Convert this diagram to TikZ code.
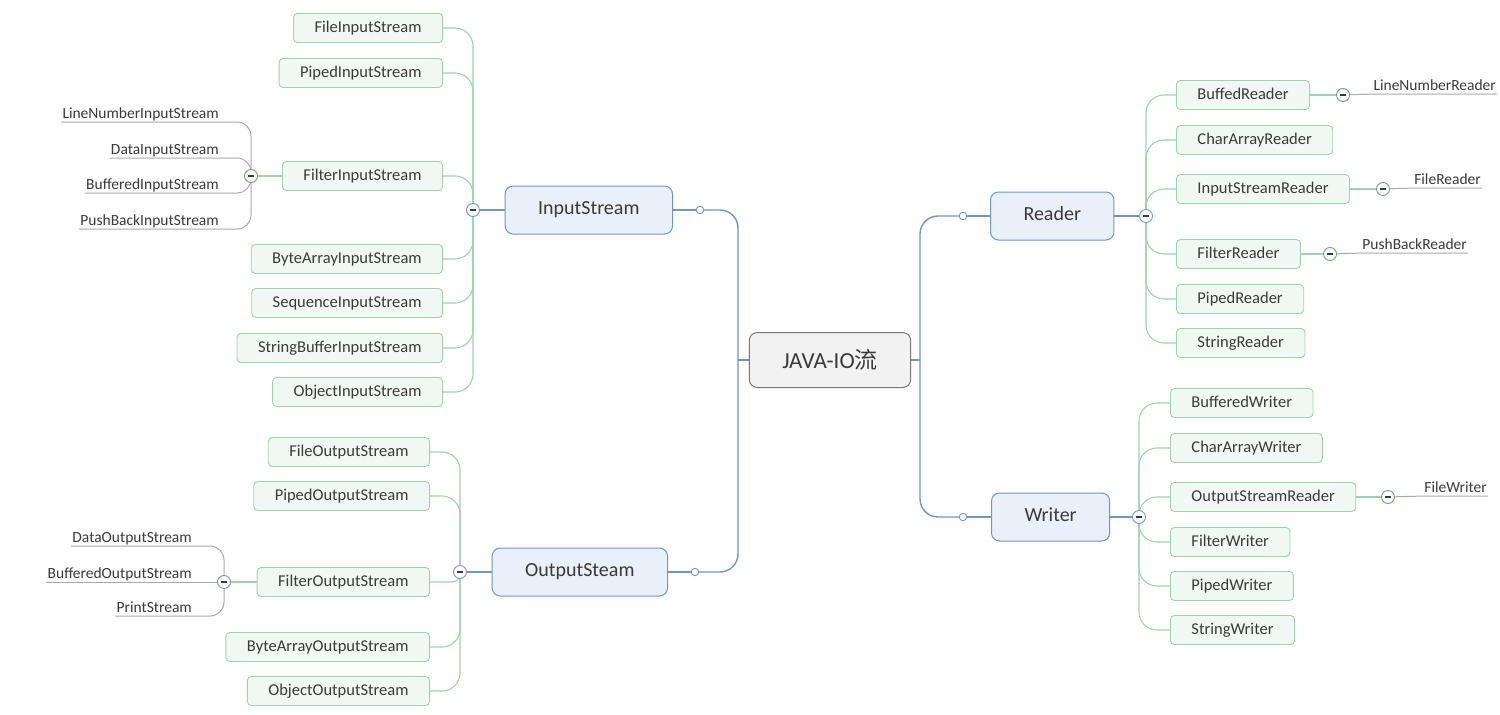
\documentclass[tikz,border=0pt]{standalone}
\usepackage{fontspec}
\setmainfont{Carlito}
\newfontfamily\cjk{Noto Sans CJK SC}
\usetikzlibrary{backgrounds}
\definecolor{mainblue}{HTML}{7395C6}
\definecolor{mainfill}{HTML}{EAF0F9}
\definecolor{kidgreen}{HTML}{9FD3AE}
\definecolor{kidfill}{HTML}{F1F8F3}
\definecolor{leafgray}{HTML}{A9A9A9}
\definecolor{rootgray}{HTML}{777777}
\definecolor{rootfill}{HTML}{F2F2F2}
\definecolor{inkgray}{HTML}{3A3A3A}

\begin{document}
\begin{tikzpicture}[x=1pt, y=-1pt,
rootnode/.style={rectangle, rounded corners=8pt, draw=rootgray, fill=rootfill, line width=1pt, text=inkgray, font=\fontsize{23}{26}\selectfont, inner xsep=33pt, minimum height=55pt},
mainnode/.style={rectangle, rounded corners=8pt, draw=mainblue, fill=mainfill, line width=1pt, text=inkgray, font=\fontsize{20}{24}\selectfont, inner xsep=33pt, text height=13pt, text depth=4pt, minimum height=48pt},
kidnode/.style={rectangle, rounded corners=4pt, draw=kidgreen, fill=kidfill, line width=0.9pt, text=inkgray, font=\fontsize{16.5}{19}\selectfont, inner xsep=21pt, text height=11pt, text depth=3pt, minimum height=29pt},
leafnode/.style={text=inkgray, font=\fontsize{15.5}{18}\selectfont, inner xsep=1pt, inner ysep=2pt, text depth=1.5pt},
dotnode/.style={circle, draw=mainblue, fill=white, line width=0.9pt, minimum size=7.5pt, inner sep=0pt},
hubnode/.style={circle, draw=mainblue, fill=white, line width=0.9pt, minimum size=13pt, inner sep=0pt,
  path picture={\draw [line width=1.3pt, inkgray] ([xshift=-3pt]path picture bounding box.center) -- ([xshift=3pt]path picture bounding box.center);}},
subhub/.style={hubnode, draw=kidgreen!75!black},
mainline/.style={draw=mainblue, line width=1.4pt},
kidline/.style={draw=kidgreen, line width=1.1pt, rounded corners=18pt},
leafline/.style={draw=leafgray, line width=1pt, rounded corners=14pt}
]
    \useasboundingbox (0,0) rectangle (1500,715);

    \node [rootnode] (root) at (830,360) {JAVA-IO{\cjk 流}};
    \coordinate (ljoin) at (738,360);
    \coordinate (rjoin) at (920,360);

    \node [mainnode,anchor=east] (inS) at (673,210) {InputStream};
    \node [mainnode,anchor=east] (outS) at (668,572) {OutputSteam};
    \node [mainnode,anchor=west] (rd) at (990,216) {Reader};
    \node [mainnode,anchor=west] (wr) at (991,517) {Writer};

    \node [dotnode] (inDot) at (700,210) {};
    \node [dotnode] (outDot) at (695,572) {};
    \node [dotnode] (rdDot) at (963,216) {};
    \node [dotnode] (wrDot) at (963,517) {};

    \node [hubnode] (inHub) at (473,210) {};
    \node [hubnode] (outHub) at (460,572) {};
    \node [hubnode] (rdHub) at (1146,216) {};
    \node [hubnode] (wrHub) at (1139,517) {};

    % InputStream
    \node [kidnode,anchor=east] (fis) at (443,28) {FileInputStream};
    \node [kidnode,anchor=east] (pis) at (443,73) {PipedInputStream};
    \node [kidnode,anchor=east] (filis) at (443,176) {FilterInputStream};
    \node [kidnode,anchor=east] (bais) at (443,259) {ByteArrayInputStream};
    \node [kidnode,anchor=east] (sis) at (443,303) {SequenceInputStream};
    \node [kidnode,anchor=east] (sbis) at (443,348) {StringBufferInputStream};
    \node [kidnode,anchor=east] (ois) at (443,392) {ObjectInputStream};

    \node [subhub] (filisHub) at (251,176) {};
    \node [leafnode,anchor=south east] (lnis) at (220,122) {LineNumberInputStream};
    \node [leafnode,anchor=south east] (dis) at (220,158) {DataInputStream};
    \node [leafnode,anchor=south east] (bis) at (220,193) {BufferedInputStream};
    \node [leafnode,anchor=south east] (pbis) at (220,229) {PushBackInputStream};

    % OutputSteam
    \node [kidnode,anchor=east] (fos) at (430,452) {FileOutputStream};
    \node [kidnode,anchor=east] (pos) at (430,496) {PipedOutputStream};
    \node [kidnode,anchor=east] (filos) at (430,582) {FilterOutputStream};
    \node [kidnode,anchor=east] (baos) at (430,647) {ByteArrayOutputStream};
    \node [kidnode,anchor=east] (oos) at (430,691) {ObjectOutputStream};

    \node [subhub] (filosHub) at (224,582) {};
    \node [leafnode,anchor=south east] (dos) at (193,546) {DataOutputStream};
    \node [leafnode,anchor=south east] (bos) at (193,582) {BufferedOutputStream};
    \node [leafnode,anchor=south east] (ps) at (193,616) {PrintStream};

    % Reader
    \node [kidnode,anchor=west] (bfr) at (1176,95) {BuffedReader};
    \node [kidnode,anchor=west] (car) at (1176,140) {CharArrayReader};
    \node [kidnode,anchor=west] (isr) at (1176,189) {InputStreamReader};
    \node [kidnode,anchor=west] (flr) at (1176,254) {FilterReader};
    \node [kidnode,anchor=west] (pdr) at (1176,299) {PipedReader};
    \node [kidnode,anchor=west] (str) at (1176,343) {StringReader};

    \node [subhub] (bfrHub) at (1343,95) {};
    \node [subhub] (isrHub) at (1383,189) {};
    \node [subhub] (flrHub) at (1330,254) {};
    \node [leafnode,anchor=south east] (lnr) at (1497,94) {LineNumberReader};
    \node [leafnode,anchor=south east] (fir) at (1482,188) {FileReader};
    \node [leafnode,anchor=south east] (pbr) at (1468,253) {PushBackReader};

    % Writer
    \node [kidnode,anchor=west] (bfw) at (1170,403) {BufferedWriter};
    \node [kidnode,anchor=west] (caw) at (1170,448) {CharArrayWriter};
    \node [kidnode,anchor=west] (osw) at (1170,497) {OutputStreamReader};
    \node [kidnode,anchor=west] (flw) at (1170,542) {FilterWriter};
    \node [kidnode,anchor=west] (pdw) at (1170,586) {PipedWriter};
    \node [kidnode,anchor=west] (stw) at (1170,630) {StringWriter};

    \node [subhub] (oswHub) at (1388,497) {};
    \node [leafnode,anchor=south east] (fiw) at (1488,496) {FileWriter};

    \begin{scope}[on background layer]
    \fill [white] (0,0) rectangle (1500,715);
    \draw [mainline] (root.west) -- (ljoin);
    \draw [mainline] (root.east) -- (rjoin);
    \draw [mainline,rounded corners=18pt] (inDot.center) -| (ljoin);
    \draw [mainline,rounded corners=18pt] (outDot.center) -| (ljoin);
    \draw [mainline,rounded corners=18pt] (rdDot.center) -| (rjoin);
    \draw [mainline,rounded corners=18pt] (wrDot.center) -| (rjoin);
    \draw [mainline] (inDot.center) -- (inS.east);
    \draw [mainline] (outDot.center) -- (outS.east);
    \draw [mainline] (rdDot.center) -- (rd.west);
    \draw [mainline] (wrDot.center) -- (wr.west);
    \draw [mainline] (inS.west) -- (inHub.center);
    \draw [mainline] (outS.west) -- (outHub.center);
    \draw [mainline] (rd.east) -- (rdHub.center);
    \draw [mainline] (wr.east) -- (wrHub.center);

    \foreach \k in {fis,pis,filis,bais,sis,sbis,ois}
        \draw [kidline] (inHub.center) |- (\k.east);
    \foreach \k in {fos,pos,baos,oos}
        \draw [kidline] (outHub.center) |- (\k.east);
    \draw [kidline,rounded corners=8pt] (outHub.center) |- (filos.east);
    \foreach \k in {bfr,car,isr,flr,pdr,str}
        \draw [kidline] (rdHub.center) |- (\k.west);
    \foreach \k in {bfw,caw,osw,flw,pdw,stw}
        \draw [kidline] (wrHub.center) |- (\k.west);

    \draw [kidline] (filis.west) -- (filisHub.center);
    \draw [kidline] (filos.west) -- (filosHub.center);
    \draw [kidline] (bfr.east) -- (bfrHub.center);
    \draw [kidline] (isr.east) -- (isrHub.center);
    \draw [kidline] (flr.east) -- (flrHub.center);
    \draw [kidline] (osw.east) -- (oswHub.center);

    \foreach \k in {lnis,dis,bis,pbis}
        \draw [leafline] (\k.south west) -- (\k.south east) -| (filisHub.center);
    \foreach \k in {dos,ps}
        \draw [leafline] (\k.south west) -- (\k.south east) -| (filosHub.center);
    \draw [leafline] (bos.south west) -- (filosHub.center);
    \draw [leafline] (bfrHub.center) -- (lnr.south west) -- (lnr.south east);
    \draw [leafline] (isrHub.center) -- (fir.south west) -- (fir.south east);
    \draw [leafline] (flrHub.center) -- (pbr.south west) -- (pbr.south east);
    \draw [leafline] (oswHub.center) -- (fiw.south west) -- (fiw.south east);
    \end{scope}
\end{tikzpicture}
\end{document}
